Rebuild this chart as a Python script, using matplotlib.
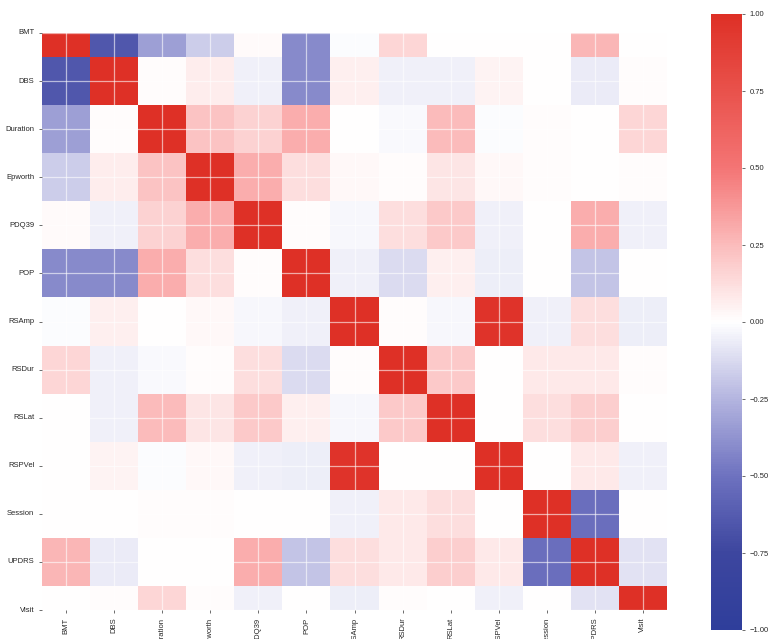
import numpy as np
import pandas as pd
import matplotlib.pyplot as plt
import seaborn as sns
from matplotlib.colors import LinearSegmentedColormap

plt.rcParams['font.family'] = ['Liberation Sans', 'DejaVu Sans']

labels = ['BMT', 'DBS', 'Duration', 'Epworth', 'PDQ39', 'POP', 'RSAmp',
          'RSDur', 'RSLat', 'RSPVel', 'Session', 'UPDRS', 'Visit']

# correlation matrix, row by row
corr_rows = [
    [1.00, -0.65, -0.33, -0.17, 0.02, -0.41, -0.01, 0.15, 0.00, 0.00, 0.00, 0.27, 0.00],
    [-0.65, 1.00, 0.01, 0.07, -0.05, -0.41, 0.06, -0.05, -0.05, 0.04, 0.00, -0.07, 0.01],
    [-0.33, 0.01, 1.00, 0.22, 0.17, 0.30, 0.00, -0.02, 0.25, -0.01, 0.01, 0.00, 0.15],
    [-0.17, 0.07, 0.22, 1.00, 0.30, 0.12, 0.03, 0.01, 0.10, 0.03, 0.01, 0.00, 0.01],
    [0.02, -0.05, 0.17, 0.30, 1.00, 0.01, -0.03, 0.12, 0.20, -0.05, 0.00, 0.30, -0.05],
    [-0.41, -0.41, 0.30, 0.12, 0.01, 1.00, -0.05, -0.12, 0.06, -0.06, 0.00, -0.20, 0.00],
    [-0.01, 0.06, 0.00, 0.03, -0.03, -0.05, 1.00, 0.01, -0.03, 0.97, -0.05, 0.12, -0.06],
    [0.15, -0.05, -0.02, 0.01, 0.12, -0.12, 0.01, 1.00, 0.20, 0.00, 0.08, 0.08, 0.01],
    [0.00, -0.05, 0.25, 0.10, 0.20, 0.06, -0.03, 0.20, 1.00, 0.00, 0.12, 0.18, 0.00],
    [0.00, 0.04, -0.01, 0.03, -0.05, -0.06, 0.97, 0.00, 0.00, 1.00, 0.00, 0.08, -0.05],
    [0.00, 0.00, 0.01, 0.01, 0.00, 0.00, -0.05, 0.08, 0.12, 0.00, 1.00, -0.52, 0.00],
    [0.27, -0.07, 0.00, 0.00, 0.30, -0.20, 0.12, 0.08, 0.18, 0.08, -0.52, 1.00, -0.10],
    [0.00, 0.01, 0.15, 0.01, -0.05, 0.00, -0.06, 0.01, 0.00, -0.05, 0.00, -0.10, 1.00],
]

corr = pd.DataFrame(corr_rows, index=labels, columns=labels)

cmap = LinearSegmentedColormap.from_list('blue_red', [
    (0.0, '#2f3e9b'), (0.125, '#3d469f'), (0.25, '#6e72c0'), (0.375, '#b4b5e0'),
    (0.5, '#ffffff'), (0.625, '#fbbcbc'), (0.75, '#f47575'), (0.875, '#e9524c'),
    (1.0, '#de3026')])

fig = plt.figure(figsize=(7.68, 6.39), dpi=100)
ax = fig.add_axes([42 / 768, 1 - 610 / 639, 625 / 768, 577 / 639])
cax = fig.add_axes([711 / 768, 1 - 630 / 639, 31 / 768, 616 / 639])

sns.heatmap(corr, ax=ax, cbar_ax=cax, cmap=cmap, vmin=-1, vmax=1,
            xticklabels=labels, yticklabels=labels)

# row limits as drawn: top and bottom rows are half visible
ax.set_ylim(12.5, 0.5)
ax.set_yticks(np.arange(len(labels)) + 0.5)
ax.set_yticklabels(labels, rotation=0)
ax.set_xticks(np.arange(len(labels)) + 0.5)
ax.set_xticklabels(labels, rotation=90)

ax.grid(True, color='white', alpha=0.6, linewidth=0.9)
ax.set_axisbelow(False)
ax.tick_params(axis='both', labelsize=5.5, length=2.5, width=0.6,
               color='#555555', labelcolor='#262626', pad=3)
for s in ax.spines.values():
    s.set_visible(False)

cax.set_yticks([-1, -0.75, -0.5, -0.25, 0, 0.25, 0.5, 0.75, 1])
cax.set_yticklabels(['\u22121.00', '\u22120.75', '\u22120.50', '\u22120.25',
                     '0.00', '0.25', '0.50', '0.75', '1.00'])
cax.tick_params(labelsize=5.5, length=2.5, width=0.6, color='#555555',
                labelcolor='#262626', pad=3)
cax.set_ylabel('')

fig.savefig('out.png', dpi=100)
